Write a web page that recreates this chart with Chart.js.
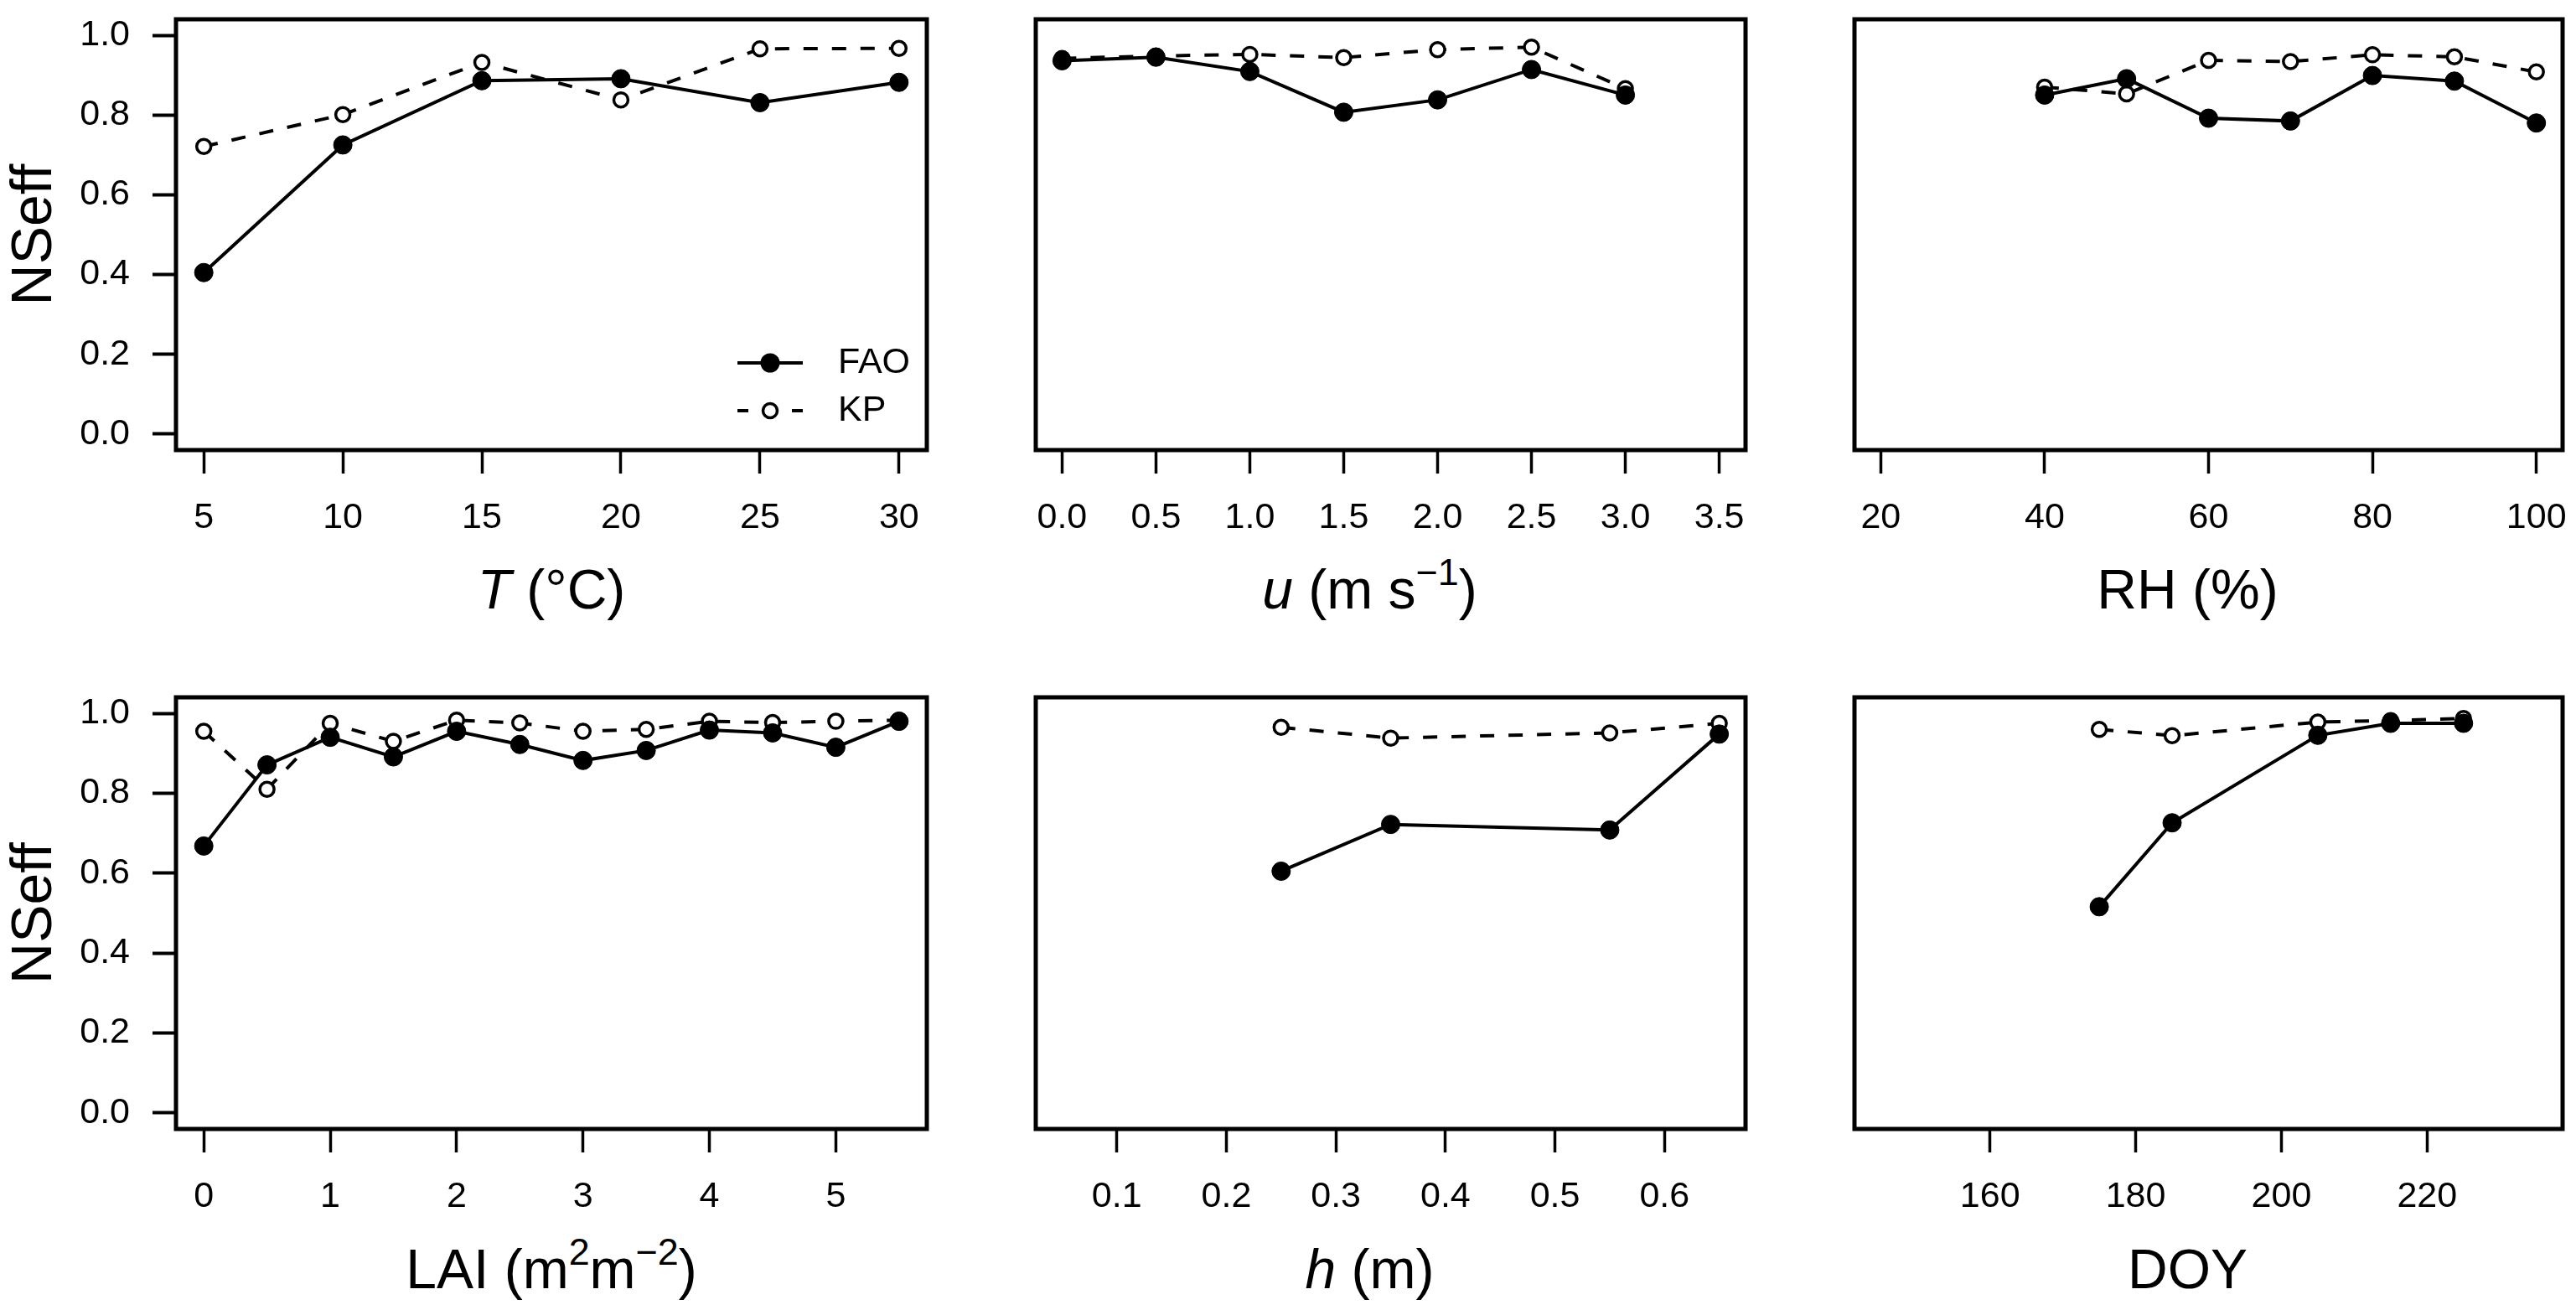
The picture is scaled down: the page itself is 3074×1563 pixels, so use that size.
<!DOCTYPE html>
<html>
<head>
<meta charset="utf-8">
<title>NSeff vs. conditions</title>
<script src="https://cdn.jsdelivr.net/npm/chart.js@4.4.1/dist/chart.umd.min.js"></script>
<style>
  html, body { margin: 0; padding: 0; background: #fff; }
  body { width: 3074px; height: 1563px; position: relative; overflow: hidden;
         font-family: "Liberation Sans", Arial, sans-serif; color: #000; }
  .panel { position: absolute; }
  .xtitle { position: absolute; width: 1000px; text-align: center; font-size: 66px;
            line-height: 66px; white-space: nowrap; }
  .xtitle sup { font-size: 0.68em; line-height: 0; vertical-align: 0.62em; }
</style>
</head>
<body>
<script>
// values
const yTicks = ['0.0', '0.2', '0.4', '0.6', '0.8', '1.0'];

const tempX = [5, 10, 15, 20, 25, 30];
const tempFAO = [0.405, 0.725, 0.886, 0.891, 0.831, 0.882];
const tempKP = [0.721, 0.801, 0.932, 0.838, 0.966, 0.967];
const tempTicks = ['5', '10', '15', '20', '25', '30'];

const windX = [0, 0.5, 1, 1.5, 2, 2.5, 3];
const windFAO = [0.936, 0.945, 0.909, 0.807, 0.838, 0.914, 0.850];
const windKP = [0.942, 0.948, 0.952, 0.944, 0.964, 0.970, 0.866];
const windTicks = ['0.0', '0.5', '1.0', '1.5', '2.0', '2.5', '3.0', '3.5'];

const rhX = [40, 50, 60, 70, 80, 90, 100];
const rhFAO = [0.850, 0.891, 0.792, 0.785, 0.899, 0.885, 0.780];
const rhKP = [0.870, 0.853, 0.937, 0.934, 0.951, 0.946, 0.908];
const rhTicks = ['20', '40', '60', '80', '100'];

const laiX = [0, 0.5, 1, 1.5, 2, 2.5, 3, 3.5, 4, 4.5, 5, 5.5];
const laiFAO = [0.668, 0.871, 0.940, 0.891, 0.955, 0.922, 0.882, 0.907, 0.958, 0.951, 0.915, 0.980];
const laiKP = [0.955, 0.810, 0.975, 0.930, 0.983, 0.976, 0.955, 0.960, 0.980, 0.977, 0.980, 0.983];
const laiTicks = ['0', '1', '2', '3', '4', '5'];

const hX = [0.25, 0.35, 0.55, 0.65];
const hFAO = [0.605, 0.722, 0.708, 0.948];
const hKP = [0.965, 0.938, 0.951, 0.975];
const hTicks = ['0.1', '0.2', '0.3', '0.4', '0.5', '0.6'];

const doyX = [175, 185, 205, 215, 225];
const doyFAO = [0.516, 0.726, 0.945, 0.975, 0.975];
const doyKP = [0.960, 0.944, 0.978, 0.982, 0.987];
const doyTicks = ['160', '180', '200', '220'];

// layout of the six boxes (pixels)
const boxLeft = [210, 1186, 2163];
const boxRight = [1106, 2083, 3058];
const boxTop = [23, 832];
const boxBottom = [537, 1347];
const titleY = [702, 1513];
const padTop = 23, padRight = 50, bottomSpace = 110;
const fontFamily = '"Liberation Sans", Arial, sans-serif';

const panels = [
    { col: 0, row: 0, x: tempX, fao: tempFAO, kp: tempKP, lim: [5, 30], ticks: tempTicks,
      title: '<i>T</i> (°C)', legend: true },
    { col: 1, row: 0, x: windX, fao: windFAO, kp: windKP, lim: [0, 3.5], ticks: windTicks,
      title: '<i>u</i> (m s<sup>−1</sup>)' },
    { col: 2, row: 0, x: rhX, fao: rhFAO, kp: rhKP, lim: [20, 100], ticks: rhTicks,
      title: 'RH (%)' },
    { col: 0, row: 1, x: laiX, fao: laiFAO, kp: laiKP, lim: [0, 5.5], ticks: laiTicks,
      title: 'LAI (m<sup>2</sup>m<sup>−2</sup>)' },
    { col: 1, row: 1, x: hX, fao: hFAO, kp: hKP, lim: [0.05, 0.65], ticks: hTicks,
      title: '<i>h</i> (m)' },
    { col: 2, row: 1, x: doyX, fao: doyFAO, kp: doyKP, lim: [145, 235], ticks: doyTicks,
      title: 'DOY' }
];

// R style axis range: 4% extra on each side
function rRange(lim) {
    const d = (lim[1] - lim[0]) * 0.04;
    return [lim[0] - d, lim[1] + d];
}

const boxPlugin = {
    id: 'box',
    afterDraw(chart) {
        const ca = chart.chartArea;
        const ctx = chart.ctx;
        ctx.save();
        ctx.lineWidth = 5;
        ctx.strokeStyle = '#000';
        ctx.strokeRect(ca.left, ca.top, ca.right - ca.left, ca.bottom - ca.top);
        ctx.restore();
    }
};

const legendPlugin = {
    id: 'rlegend',
    afterDraw(chart) {
        const ca = chart.chartArea;
        const ctx = chart.ctx;
        const x0 = ca.right - 226, x1 = ca.right - 148, xc = (x0 + x1) / 2;
        const tx = ca.right - 106;
        const y1 = ca.top + 410, y2 = ca.top + 467;
        ctx.save();
        ctx.strokeStyle = '#000';
        ctx.fillStyle = '#000';
        // FAO
        ctx.lineWidth = 4;
        ctx.beginPath(); ctx.moveTo(x0, y1); ctx.lineTo(x1, y1); ctx.stroke();
        ctx.beginPath(); ctx.arc(xc, y1, 11.5, 0, Math.PI * 2); ctx.fill();
        // KP
        ctx.setLineDash([13, 52]);
        ctx.beginPath(); ctx.moveTo(x0, y2); ctx.lineTo(x1, y2); ctx.stroke();
        ctx.setLineDash([]);
        ctx.lineWidth = 3.5;
        ctx.fillStyle = '#fff';
        ctx.beginPath(); ctx.arc(xc, y2, 8.5, 0, Math.PI * 2); ctx.fill(); ctx.stroke();
        ctx.fillStyle = '#000';
        ctx.font = '43px ' + fontFamily;
        ctx.textAlign = 'left';
        ctx.textBaseline = 'middle';
        ctx.fillText('FAO', tx, y1);
        ctx.fillText('KP', tx, y2);
        ctx.restore();
    }
};

function makePanel(p) {
    const leftSpace = p.col === 0 ? 210 : 50;
    const bw = boxRight[p.col] - boxLeft[p.col];
    const bh = boxBottom[p.row] - boxTop[p.row];
    const cw = leftSpace + bw + padRight;
    const chh = padTop + bh + bottomSpace;

    const wrap = document.createElement('div');
    wrap.className = 'panel';
    wrap.style.left = (boxLeft[p.col] - leftSpace) + 'px';
    wrap.style.top = (boxTop[p.row] - padTop) + 'px';
    wrap.style.width = cw + 'px';
    wrap.style.height = chh + 'px';
    const canvas = document.createElement('canvas');
    canvas.width = cw;
    canvas.height = chh;
    canvas.style.width = cw + 'px';
    canvas.style.height = chh + 'px';
    wrap.appendChild(canvas);
    document.body.appendChild(wrap);

    const title = document.createElement('div');
    title.className = 'xtitle';
    title.innerHTML = p.title;
    title.style.left = ((boxLeft[p.col] + boxRight[p.col]) / 2 - 500) + 'px';
    title.style.top = Math.round(titleY[p.row] - 0.4885 * 66) + 'px';
    document.body.appendChild(title);

    const xr = rRange(p.lim);
    const showY = p.col === 0;

    new Chart(canvas.getContext('2d'), {
        type: 'scatter',
        data: {
            datasets: [{
                label: 'FAO',
                data: p.x.map((v, i) => ({ x: v, y: p.fao[i] })),
                showLine: true,
                borderColor: '#000',
                borderWidth: 4,
                pointRadius: 11,
                pointBackgroundColor: '#000',
                pointBorderColor: '#000',
                pointBorderWidth: 1
            }, {
                label: 'KP',
                data: p.x.map((v, i) => ({ x: v, y: p.kp[i] })),
                showLine: true,
                borderColor: '#000',
                borderWidth: 4,
                borderDash: [17, 17],
                pointRadius: 8.5,
                pointBackgroundColor: '#fff',
                pointBorderColor: '#000',
                pointBorderWidth: 3.5
            }]
        },
        options: {
            responsive: false,
            animation: false,
            events: [],
            layout: { padding: { top: padTop, right: padRight, bottom: 0, left: showY ? 0 : leftSpace } },
            plugins: { legend: { display: false }, tooltip: { enabled: false } },
            scales: {
                x: {
                    type: 'linear',
                    min: xr[0],
                    max: xr[1],
                    afterBuildTicks: s => { s.ticks = p.ticks.map(t => ({ value: parseFloat(t) })); },
                    afterFit: s => {
                        s.height = bottomSpace;
                        s.paddingLeft = 0;
                        s.paddingRight = 0;
                    },
                    ticks: {
                        callback: (v, i) => p.ticks[i],
                        autoSkip: false, maxRotation: 0, minRotation: 0,
                        color: '#000', font: { family: fontFamily, size: 43 }, padding: 27
                    },
                    grid: { display: true, drawOnChartArea: false, drawTicks: true,
                            tickLength: 28, tickWidth: 3.5, tickColor: '#000' },
                    border: { display: false }
                },
                y: {
                    type: 'linear',
                    display: showY,
                    min: -0.04,
                    max: 1.04,
                    afterBuildTicks: s => { s.ticks = yTicks.map(t => ({ value: parseFloat(t) })); },
                    afterFit: s => {
                        s.width = leftSpace;
                        s.paddingTop = 0;
                        s.paddingBottom = 0;
                    },
                    ticks: {
                        callback: (v, i) => yTicks[i],
                        autoSkip: false,
                        color: '#000', font: { family: fontFamily, size: 43 }, padding: 27
                    },
                    title: { display: true, text: 'NSeff', color: '#000',
                             font: { family: fontFamily, size: 68 }, padding: { top: 1, bottom: 0 } },
                    grid: { display: true, drawOnChartArea: false, drawTicks: true,
                            tickLength: 28, tickWidth: 4, tickColor: '#000' },
                    border: { display: false }
                }
            }
        },
        plugins: p.legend ? [boxPlugin, legendPlugin] : [boxPlugin]
    });
}

panels.forEach(makePanel);
</script>
</body>
</html>
